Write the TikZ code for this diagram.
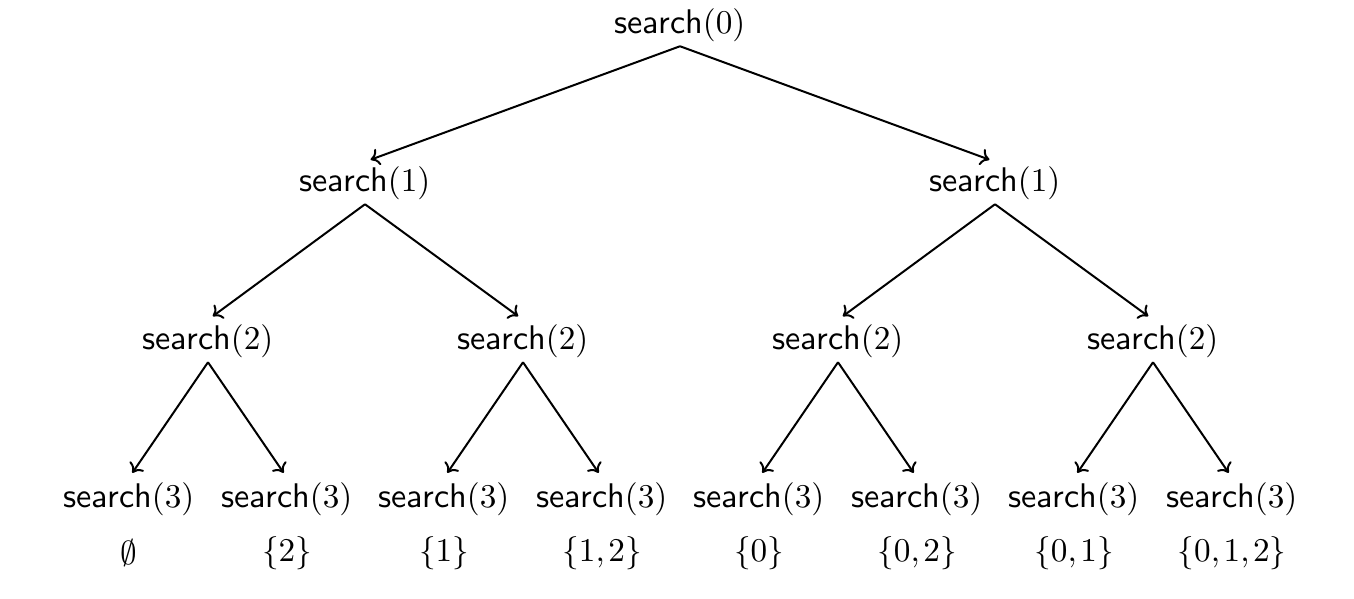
\documentclass[tikz,border=0pt]{standalone}
\usepackage{amssymb}
\usetikzlibrary{arrows.meta}
\begin{document}
\begin{tikzpicture}[x=0.3012pt,y=-0.3012pt,
  call/.style={inner sep=1.2pt, font=\fontsize{10.3}{12}\selectfont},
  setlbl/.style={inner sep=0.6pt, font=\fontsize{9.6}{11}\selectfont},
  edge/.style={line width=0.6pt, -{To[length=2.6pt,width=5.2pt]}, shorten >=1.8pt}
]
\useasboundingbox (0,0) rectangle (1354,598);
\newcommand{\callx}[1]{\textsf{search}$(#1)$}
% level 0
\node[call] (r) at (680,25) {\callx{0}};
% level 1
\node[call] (a) at (365,183) {\callx{1}};
\node[call] (b) at (995,183) {\callx{1}};
% level 2
\node[call] (aa) at (208,341) {\callx{2}};
\node[call] (ab) at (523,341) {\callx{2}};
\node[call] (ba) at (838,341) {\callx{2}};
\node[call] (bb) at (1153,341) {\callx{2}};
% level 3
\node[call] (l1) at (129,499) {\callx{3}};
\node[call] (l2) at (287,499) {\callx{3}};
\node[call] (l3) at (444,499) {\callx{3}};
\node[call] (l4) at (602,499) {\callx{3}};
\node[call] (l5) at (759,499) {\callx{3}};
\node[call] (l6) at (917,499) {\callx{3}};
\node[call] (l7) at (1074,499) {\callx{3}};
\node[call] (l8) at (1232,499) {\callx{3}};
% sets
\node[setlbl] (s1) at (129,553) {$\emptyset$};
\node[setlbl] (s2) at (287,553) {$\{2\}$};
\node[setlbl] (s3) at (444,553) {$\{1\}$};
\node[setlbl] (s4) at (602,553) {$\{1,\mkern-1mu2\}$};
\node[setlbl] (s5) at (759,553) {$\{0\}$};
\node[setlbl] (s6) at (917,553) {$\{0,\mkern-1mu2\}$};
\node[setlbl] (s7) at (1074,553) {$\{0,\mkern-1mu1\}$};
\node[setlbl] (s8) at (1232,553) {$\{0,\mkern-1mu1,\mkern-1mu2\}$};
% edges
\foreach \p/\c in {r/a,r/b,a/aa,a/ab,b/ba,b/bb,aa/l1,aa/l2,ab/l3,ab/l4,ba/l5,ba/l6,bb/l7,bb/l8}
  \draw[edge] (\p.south) -- (\c.north);
\end{tikzpicture}
\end{document}
